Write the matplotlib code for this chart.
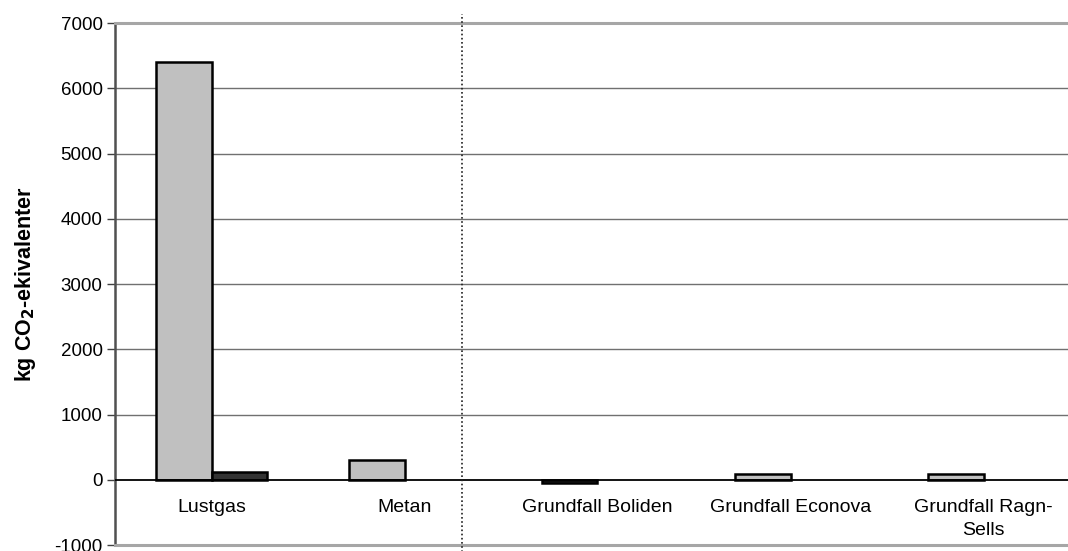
import matplotlib
matplotlib.use("Agg")
import matplotlib.pyplot as plt
import matplotlib.transforms as mtransforms
import numpy as np

categories = ["Lustgas", "Metan", "Grundfall Boliden", "Grundfall Econova", "Grundfall Ragn-\nSells"]
series1 = [6400, 310, -55, 85, 88]
series2 = [125, 0, 0, 0, 0]
series1_colors = ["#c0c0c0", "#c0c0c0", "#333333", "#c0c0c0", "#c0c0c0"]
series2_color = "#333333"
yticks = [-1000, 0, 1000, 2000, 3000, 4000, 5000, 6000, 7000]
ylabel = "kg CO$_\\mathbf{2}$-ekivalenter"

plt.rcParams["font.family"] = ["Liberation Sans", "DejaVu Sans"]

W, H = 1068, 551
fig = plt.figure(figsize=(W / 100, H / 100), dpi=100)
left, right, top, bottom = 115, 1080, 23, 545
ax = fig.add_axes([left / W, 1 - bottom / H, (right - left) / W, (bottom - top) / H])

x = np.arange(len(categories))
bw = 0.285
ax.bar(x - bw / 2, series1, width=bw, color=series1_colors, edgecolor="black", linewidth=1.8, zorder=3)
s2 = [v if v != 0 else np.nan for v in series2]
ax.bar(x + bw / 2, s2, width=bw, color=series2_color, edgecolor="black", linewidth=1.8, zorder=3)

ax.set_xlim(-0.5, len(categories) - 0.5)
ax.set_ylim(-1000, 7000)
ax.set_yticks(yticks)
ax.set_yticklabels([str(t) for t in yticks], fontsize=13.5)
ax.tick_params(axis="y", direction="out", length=6, width=1, color="#404040", pad=3)
ax.set_xticks([])

for t in yticks[2:-1]:
    ax.axhline(t, color="#707070", linewidth=1, zorder=1)
ax.axhline(0, color="black", linewidth=1.3, zorder=4)

for side in ["top", "bottom"]:
    ax.spines[side].set_color("#a6a6a6")
    ax.spines[side].set_linewidth(2.2)
ax.spines["right"].set_visible(False)
ax.spines["left"].set_color("#505050")
ax.spines["left"].set_linewidth(1.8)

for i, lab in enumerate(categories):
    ax.annotate(lab, xy=(i, 0), xycoords="data", xytext=(0, -19), textcoords="offset pixels",
                ha="center", va="top", fontsize=14, multialignment="center", linespacing=1.45)

ax.set_ylabel(ylabel, fontsize=15.5, fontweight="bold", labelpad=12)

trans = mtransforms.blended_transform_factory(ax.transData, ax.transAxes)
ax.plot([1.3, 1.3], [-0.02, 1.018], transform=trans, color="#202020", linestyle=(0, (1, 1.5)),
        linewidth=1.2, clip_on=False, zorder=5)

fig.savefig("out.png", dpi=100)
